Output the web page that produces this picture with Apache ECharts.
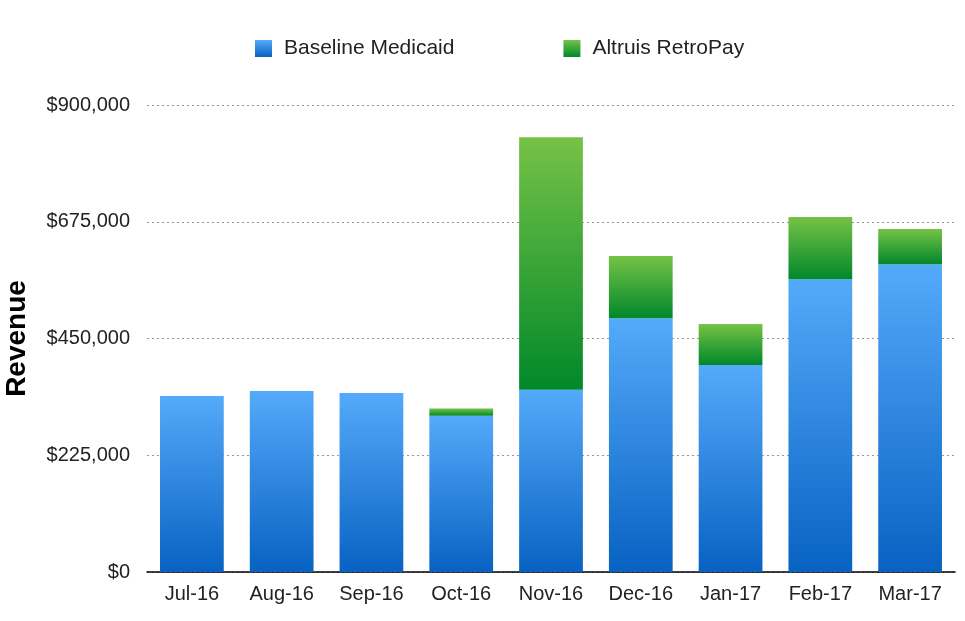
<!DOCTYPE html>
<html><head><meta charset="utf-8">
<script src="https://cdn.jsdelivr.net/npm/echarts@6/dist/echarts.min.js"></script>
<style>html,body{margin:0;padding:0;background:#fff}#c{width:965px;height:621px}</style>
</head><body><div id="c"></div>
<script>
const categories = ['Jul-16','Aug-16','Sep-16','Oct-16','Nov-16','Dec-16','Jan-17','Feb-17','Mar-17'];
const baseline = [339000, 349000, 345000, 301000, 351000, 489000, 399000, 564000, 593000];
const retroPay = [0, 0, 0, 14000, 487000, 120000, 79000, 120000, 68000];
const yTicks = [0, 225000, 450000, 675000, 900000];

const font = '"Liberation Sans", Arial, Helvetica, sans-serif';
const blueGrad = new echarts.graphic.LinearGradient(0,0,0,1,[{offset:0,color:'#54AAFA'},{offset:1,color:'#0862C2'}]);
const greenGrad = new echarts.graphic.LinearGradient(0,0,0,1,[{offset:0,color:'#76C246'},{offset:1,color:'#00882A'}]);

const chart = echarts.init(document.getElementById('c'));
chart.setOption({
  animation:false,
  legend:{
    top:33, left:250, itemGap:109, itemWidth:17, itemHeight:17,
    icon:'rect',
    textStyle:{fontFamily:font, fontSize:21, color:'#222', padding:[0,0,0,7]},
    data:[{name:'Baseline Medicaid', itemStyle:{color:blueGrad}},{name:'Altruis RetroPay', itemStyle:{color:greenGrad}}]
  },
  grid:{left:147, right:10, top:105, bottom:49, containLabel:false, outerBoundsMode:'none'},
  xAxis:{
    type:'category', data:categories,
    axisLine:{lineStyle:{color:'#000', width:1.5}},
    axisTick:{show:false},
    axisLabel:{fontFamily:font, fontSize:20, color:'#222', margin:12}
  },
  yAxis:{
    type:'value', min:yTicks[0], max:yTicks[yTicks.length-1], interval:225000,
    name:'Revenue', nameLocation:'middle', nameGap:116, nameRotate:90,
    nameTextStyle:{fontFamily:font, fontSize:28, fontWeight:'bold', color:'#000'},
    axisLine:{show:false}, axisTick:{show:false},
    axisLabel:{fontFamily:font, fontSize:20, color:'#222', margin:17,
      formatter:v=>'$'+v.toLocaleString('en-US')},
    splitLine:{lineStyle:{color:'#999', type:[2,3], width:1}}
  },
  series:[
    {name:'Baseline Medicaid', type:'bar', stack:'s', data:baseline, barWidth:'71%', itemStyle:{color:blueGrad}},
    {name:'Altruis RetroPay', type:'bar', stack:'s', data:retroPay, barWidth:'71%', itemStyle:{color:greenGrad}}
  ]
});
</script></body></html>
